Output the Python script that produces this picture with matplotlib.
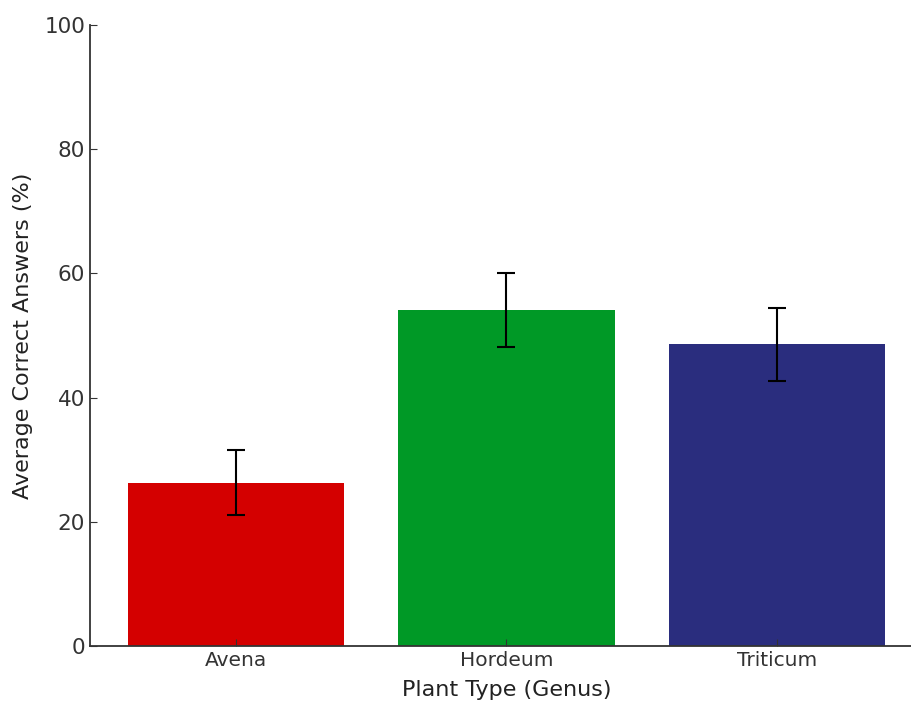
import matplotlib
matplotlib.use("Agg")
import matplotlib.pyplot as plt

categories = ["Avena", "Hordeum", "Triticum"]
means = [26.3, 54.1, 48.6]
errors = [5.2, 6.0, 5.9]
colors = ["#d40000", "#009926", "#2a2d7e"]

fig = plt.figure(figsize=(9.12, 7.02), dpi=100)
ax = fig.add_axes([90/912, 56/702, (923-90)/912, (646-25)/702])
ax.bar(categories, means, yerr=errors, color=colors, width=0.8,
       capsize=6.5, error_kw=dict(elinewidth=1.5, capthick=1.5, ecolor="black"))
ax.set_ylim(0, 100)
ax.set_xlabel("Plant Type (Genus)", fontsize=16, color="#222222", labelpad=7)
ax.set_ylabel("Average Correct Answers (%)", fontsize=16, color="#222222", labelpad=8)
ax.tick_params(direction="in", labelsize=15.5, colors="#333333", length=5)
ax.tick_params(axis="x", labelsize=14.5)
for s in ["top", "right"]:
    ax.spines[s].set_visible(False)
for s in ["left", "bottom"]:
    ax.spines[s].set_color("#333333")
    ax.spines[s].set_linewidth(1.3)
fig.savefig("out.png", dpi=100)
